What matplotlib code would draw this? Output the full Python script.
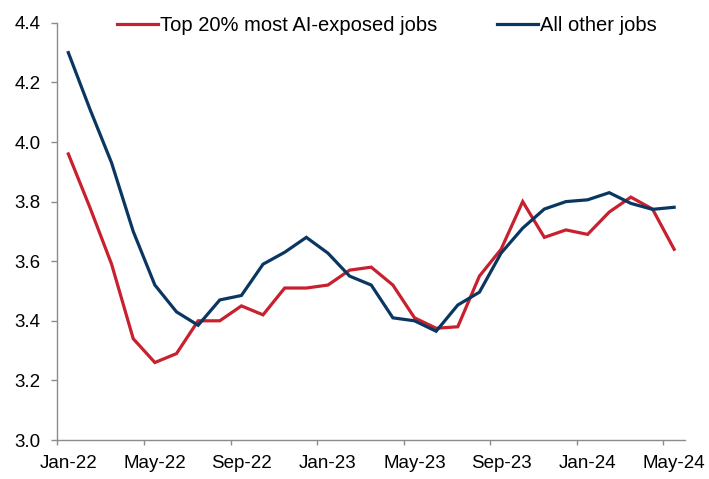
# -*- coding: utf-8 -*-
import matplotlib
matplotlib.use("Agg")
import matplotlib.pyplot as plt
import numpy as np

# data ---------------------------------
months = ["Jan-22", "Feb-22", "Mar-22", "Apr-22", "May-22", "Jun-22", "Jul-22", "Aug-22",
          "Sep-22", "Oct-22", "Nov-22", "Dec-22", "Jan-23", "Feb-23", "Mar-23", "Apr-23",
          "May-23", "Jun-23", "Jul-23", "Aug-23", "Sep-23", "Oct-23", "Nov-23", "Dec-23",
          "Jan-24", "Feb-24", "Mar-24", "Apr-24", "May-24"]

ai_exposed = [3.96, 3.78, 3.59, 3.34, 3.26, 3.29, 3.40, 3.40, 3.45, 3.42,
              3.51, 3.51, 3.52, 3.57, 3.58, 3.52, 3.41, 3.375, 3.38, 3.55,
              3.64, 3.80, 3.68, 3.705, 3.69, 3.765, 3.815, 3.775, 3.64]

other_jobs = [4.30, 4.11, 3.93, 3.70, 3.52, 3.43, 3.385, 3.47, 3.485, 3.59,
              3.63, 3.68, 3.627, 3.55, 3.52, 3.41, 3.40, 3.365, 3.453, 3.496,
              3.627, 3.711, 3.775, 3.80, 3.806, 3.83, 3.794, 3.774, 3.781]

ai_label = "Top 20% most AI-exposed jobs"
other_label = "All other jobs"
# --------------------------------------

red = "#C8202E"
navy = "#0A3761"
grey = "#8C8C8C"

plt.rcParams["font.family"] = ["Liberation Sans", "DejaVu Sans"]

fig = plt.figure(figsize=(7.09, 4.79), dpi=100)
ax = fig.add_axes([0.0811, 0.0814, 0.885, 0.871])

x = np.arange(len(months))
ax.plot(x, ai_exposed, color=red, lw=2.3, label=ai_label, solid_joinstyle="miter")
ax.plot(x, other_jobs, color=navy, lw=2.3, label=other_label, solid_joinstyle="miter")

ax.set_xlim(-0.5, len(months) - 0.5)
ax.set_ylim(3.0, 4.4)
ax.set_yticks(np.arange(3.0, 4.41, 0.2))
ax.set_yticklabels([f"{v:.1f}" for v in np.arange(3.0, 4.41, 0.2)])

ax.set_xticks(x[::4])
ax.set_xticklabels(months[::4])
ax.set_xticks(np.arange(-0.5, len(months) - 0.5, 4), minor=True)

for s in ["top", "right"]:
    ax.spines[s].set_visible(False)
for s in ["left", "bottom"]:
    ax.spines[s].set_color(grey)
    ax.spines[s].set_linewidth(1.0)

ax.tick_params(axis="y", direction="out", length=4, width=1, color=grey,
               labelsize=13.5, pad=8, labelcolor="black")
ax.tick_params(axis="x", which="major", length=0, labelsize=13.5, pad=11, labelcolor="black")
ax.tick_params(axis="x", which="minor", direction="out", length=3.5, width=1, color=grey)

ax.legend(loc="center", bbox_to_anchor=(0.525, 0.993), ncol=2, frameon=False,
          fontsize=14.5, handlelength=2.0, handletextpad=0.1, columnspacing=3.0,
          borderaxespad=0)

fig.savefig("out.png", dpi=100)
